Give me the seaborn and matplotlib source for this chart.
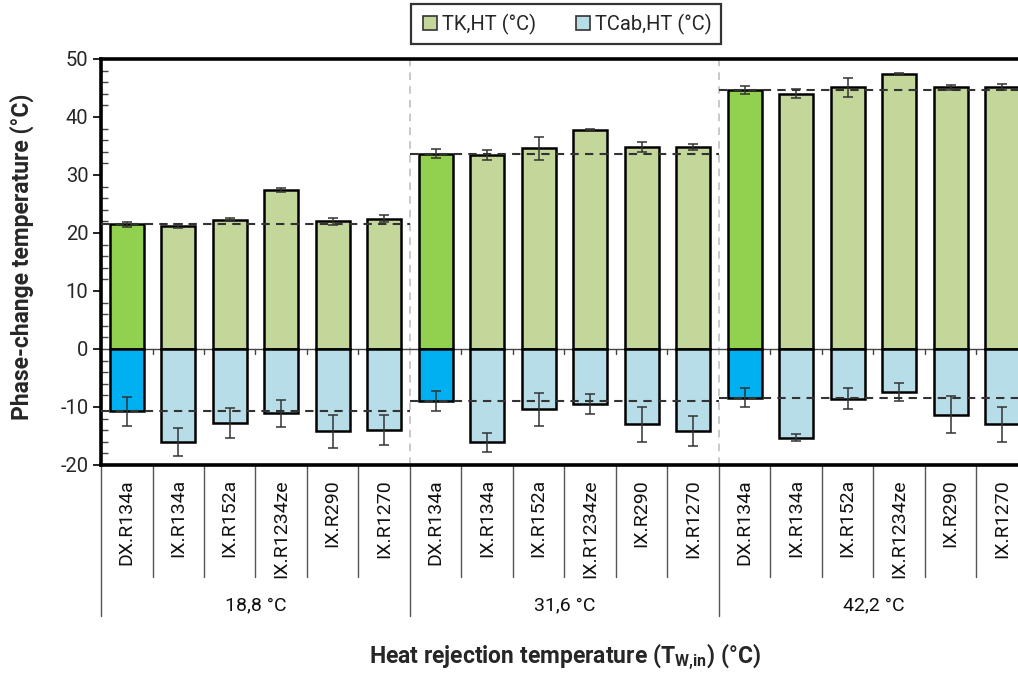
import numpy as np
import pandas as pd
import matplotlib
matplotlib.use("Agg")
import matplotlib.pyplot as plt
from matplotlib.ticker import MultipleLocator
from matplotlib.lines import Line2D
import seaborn as sns

# ---------------- data ----------------
groups = ["18,8 °C", "31,6 °C", "42,2 °C"]
refrigerants = ["DX.R134a", "IX.R134a", "IX.R152a", "IX.R1234ze", "IX.R290", "IX.R1270"]

tk_ht = [21.5, 21.2, 22.3, 27.4, 22.0, 22.5,
         33.7, 33.4, 34.6, 37.8, 34.8, 34.8,
         44.6, 44.0, 45.1, 47.4, 45.1, 45.2]
tk_err = [0.4, 0.4, 0.3, 0.3, 0.6, 0.6,
          0.85, 0.85, 2.0, 0.2, 0.9, 0.5,
          0.7, 0.8, 1.6, 0.2, 0.5, 0.5]
tcab_ht = [-10.7, -16.1, -12.8, -11.1, -14.2, -14.0,
           -9.0, -16.1, -10.4, -9.5, -13.0, -14.1,
           -8.4, -15.3, -8.6, -7.4, -11.3, -13.0]
tcab_err = [2.5, 2.4, 2.6, 2.3, 2.9, 2.6,
            1.7, 1.7, 2.9, 1.7, 3.0, 2.6,
            1.6, 0.6, 1.8, 1.6, 3.2, 3.0]

legend_labels = ["TK,HT (°C)", "TCab,HT (°C)"]
c_tk_dx, c_tk_ix = "#92D050", "#C4D79B"
c_cab_dx, c_cab_ix = "#00B0F0", "#B7DEE8"

# ---------------- table ----------------
n_per = len(refrigerants)
rows = []
for gi, g in enumerate(groups):
    for ri, r in enumerate(refrigerants):
        k = gi * n_per + ri
        rows.append(dict(slot=f"s{k:02d}", group=g, ref=r,
                         tk=tk_ht[k], tk_err=tk_err[k],
                         tcab=tcab_ht[k], tcab_err=tcab_err[k]))
df = pd.DataFrame(rows)
order = list(df["slot"])
pal_tk = {s: (c_tk_dx if r.startswith("DX") else c_tk_ix) for s, r in zip(df["slot"], df["ref"])}
pal_cab = {s: (c_cab_dx if r.startswith("DX") else c_cab_ix) for s, r in zip(df["slot"], df["ref"])}

# ---------------- style ----------------
sns.set_style("white")
plt.rcParams["font.family"] = ["Roboto", "DejaVu Sans"]
plt.rcParams["axes.unicode_minus"] = False
plt.rcParams["mathtext.fontset"] = "custom"
plt.rcParams["mathtext.rm"] = "Roboto"
plt.rcParams["mathtext.bf"] = "Roboto:bold"

fig = plt.figure(figsize=(10.18, 6.74), dpi=100)
ax = fig.add_axes([101 / 1018, 209 / 674, 927 / 1018, 406 / 674])

bar_kw = dict(width=0.66, dodge=False, edgecolor="black", linewidth=1.8, saturation=1,
              legend=False, order=order, hue_order=order, errorbar=None, zorder=3)
sns.barplot(data=df, x="slot", y="tk", hue="slot", palette=pal_tk, ax=ax, **bar_kw)
sns.barplot(data=df, x="slot", y="tcab", hue="slot", palette=pal_cab, ax=ax, **bar_kw)

pos = np.arange(len(df))
ax.errorbar(pos, df["tk"], yerr=df["tk_err"], fmt="none", ecolor="#333333",
            elinewidth=1.1, capsize=3.5, capthick=1.1, zorder=5)
ax.errorbar(pos, df["tcab"], yerr=df["tcab_err"], fmt="none", ecolor="#333333",
            elinewidth=1.1, capsize=3.5, capthick=1.1, zorder=5)

# reference (DX) dashed lines per group
for gi in range(len(groups)):
    k0 = gi * n_per
    x0, x1 = k0 - 0.5, k0 + n_per - 0.5
    ax.hlines([tk_ht[k0], tcab_ht[k0]], x0, x1, colors="#333333",
              linestyles=(0, (4, 3)), linewidth=1.5, zorder=6)

# group boundaries (grey dashed)
for gi in range(1, len(groups)):
    ax.axvline(gi * n_per - 0.5, color="#BBBBBB", linestyle=(0, (5, 4)),
               linewidth=1.1, zorder=1)

# zero line and small ticks on it
ax.axhline(0, color="#444444", linewidth=1.0, zorder=2)
for k in range(len(df) - 1):
    if (k + 1) % n_per != 0:
        ax.plot([k + 0.5, k + 0.5], [0, -0.9], color="#444444", lw=1.0, zorder=2)

ax.set_xlim(-0.5, len(df) - 0.5)
ax.set_ylim(-20, 50)
ax.yaxis.set_major_locator(MultipleLocator(10))
ax.yaxis.set_minor_locator(MultipleLocator(2))
ax.tick_params(axis="y", which="major", direction="out", length=6, width=1.4,
               labelsize=14.5, color="#222222", pad=3, left=True)
ax.tick_params(axis="y", which="minor", direction="in", length=5, width=1.0,
               color="#444444", left=True)
ax.tick_params(axis="x", bottom=False, labelbottom=False)
ax.set_xlabel("")
ax.set_ylabel("")
for side in ["top", "left", "bottom"]:
    ax.spines[side].set_linewidth(2.6)
    ax.spines[side].set_color("black")
ax.spines["right"].set_visible(False)

# multi-level category axis below
xt = ax.get_xaxis_transform()
for k, r in enumerate(df["ref"]):
    ax.text(k, -0.035, r, rotation=90, ha="center", va="top", fontsize=14,
            transform=xt, color="#111111")
for k in range(len(df) - 1):
    if (k + 1) % n_per != 0:
        ax.plot([k + 0.5, k + 0.5], [0, -0.276], transform=xt, clip_on=False,
                color="#555555", lw=1.0)
for gi in range(len(groups) + 1):
    xb = gi * n_per - 0.5
    ax.plot([xb, xb], [0, -0.372], transform=xt, clip_on=False,
            color="#555555", lw=1.0)
for gi, g in enumerate(groups):
    ax.text(gi * n_per + (n_per - 1) / 2, -0.345, g, ha="center", va="center",
            fontsize=14, transform=xt, color="#111111")

# titles
fig.text(22 / 1018, 1 - 257 / 674, "Phase-change temperature (°C)", rotation=90,
         ha="center", va="center", fontsize=16.5, fontweight="bold")
fig.text(565 / 1018, 1 - 657 / 674, r"Heat rejection temperature (T$_{\mathbf{W{,}in}}$) (°C)",
         ha="center", va="center", fontsize=16.5, fontweight="bold")

# legend
handles = [Line2D([], [], marker="s", linestyle="none", markersize=10,
                  markerfacecolor=c_tk_ix, markeredgecolor="#333333", markeredgewidth=1.2),
           Line2D([], [], marker="s", linestyle="none", markersize=10,
                  markerfacecolor=c_cab_ix, markeredgecolor="#333333", markeredgewidth=1.2)]
leg = fig.legend(handles, legend_labels, loc="center", ncol=2,
                 bbox_to_anchor=(566 / 1018, 1 - 24 / 674), fontsize=14.5,
                 frameon=True, fancybox=False, edgecolor="black",
                 handletextpad=0.1, columnspacing=1.8, borderpad=0.45,
                 handlelength=1.0, borderaxespad=0)
leg.get_frame().set_linewidth(1.6)

fig.savefig("out.png", dpi=100)
